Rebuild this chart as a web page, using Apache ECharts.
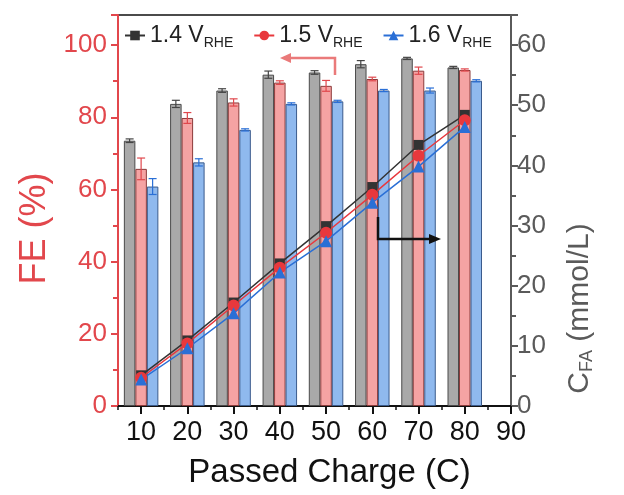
<!DOCTYPE html>
<html>
<head>
<meta charset="utf-8">
<script src="https://cdn.jsdelivr.net/npm/echarts@6/dist/echarts.min.js"></script>
<style>
  html, body { margin: 0; padding: 0; background: #fff; }
  #chart { width: 624px; height: 495px; }
</style>
</head>
<body>
<div id="chart"></div>
<script>
// x axis positions (category axis running 5..90 in steps of 5)
const xCats = ['5', '10', '15', '20', '25', '30', '35', '40', '45', '50', '55', '60', '65', '70', '75', '80', '85', '90'];
const charges = ['10', '20', '30', '40', '50', '60', '70', '80'];

// Faradaic efficiency (%), left axis
const fe14 = [73.5, 83.7, 87.4, 91.8, 92.4, 94.7, 96.3, 93.8];
const fe15 = [65.7, 79.8, 84.1, 89.6, 88.7, 90.6, 92.9, 93.1];
const fe16 = [60.8, 67.5, 76.5, 83.7, 84.4, 87.4, 87.4, 90.1];
const fe14Err = [0.5, 1.0, 0.5, 1.0, 0.5, 1.0, 0.3, 0.3];
const fe15Err = [3.0, 1.5, 1.0, 0.5, 1.5, 0.5, 1.0, 0.3];
const fe16Err = [2.2, 1.0, 0.3, 0.3, 0.3, 0.3, 0.7, 0.3];

// formate concentration (mmol/L), right axis
const cfa14 = [5.1, 10.9, 17.2, 23.7, 29.9, 36.4, 43.4, 48.4];
const cfa15 = [4.7, 10.4, 16.7, 23.0, 28.8, 35.1, 41.6, 47.5];
const cfa16 = [4.4, 9.6, 15.4, 22.2, 27.4, 33.8, 39.8, 46.4];

const RED = '#e2474c';
const GREY = '#5a5a5a';
const BAR_W = 11.5;
const FONT = 'Liberation Sans, Arial, sans-serif';

const pairs = (vals) => charges.map((c, i) => [c, vals[i]]);
const errPairs = (vals, errs) => charges.map((c, i) => [c, vals[i] - errs[i], vals[i] + errs[i]]);

function errRenderer(offset, color) {
    return function (params, api) {
        const x = api.coord([api.value(0), 0])[0] + offset;
        const lo = api.coord([api.value(0), api.value(1)])[1];
        const hi = api.coord([api.value(0), api.value(2)])[1];
        const cap = 4;
        const style = { stroke: color, lineWidth: 1.2 };
        return {
            type: 'group',
            children: [
                { type: 'line', shape: { x1: x, y1: lo, x2: x, y2: hi }, style: style },
                { type: 'line', shape: { x1: x - cap, y1: hi, x2: x + cap, y2: hi }, style: style },
                { type: 'line', shape: { x1: x - cap, y1: lo, x2: x + cap, y2: lo }, style: style },
            ],
        };
    };
}

function barSeries(name, vals, fill, border) {
    return {
        name: name,
        type: 'bar',
        data: pairs(vals),
        barWidth: BAR_W,
        barGap: '0%',
        itemStyle: { color: fill, borderColor: border, borderWidth: 1 },
        z: 2,
    };
}

function lineSeries(name, vals, color, symbol, size) {
    return {
        name: name,
        type: 'line',
        yAxisIndex: 1,
        data: pairs(vals),
        symbol: symbol,
        symbolSize: size,
        lineStyle: { color: color, width: 1.5 },
        itemStyle: { color: color },
        z: 5,
    };
}

const chart = echarts.init(document.getElementById('chart'));

const option = {
    animation: false,
    backgroundColor: '#fff',
    textStyle: { fontFamily: FONT },
    grid: {
        left: 118, right: 113, top: 15, bottom: 89,
        show: true, borderColor: '#111', borderWidth: 1.5, backgroundColor: 'transparent',
    },
    legend: {
        data: ['1.4', '1.5', '1.6'],
        left: 119,
        top: 19,
        itemWidth: 20,
        itemHeight: 12,
        itemGap: 20,
        formatter: (n) => n + ' V{s|RHE}',
        textStyle: {
            fontSize: 23, color: '#222', fontFamily: FONT,
            rich: { s: { fontSize: 14, color: '#222', fontFamily: FONT, padding: [16, 0, 0, 0] } },
        },
    },
    xAxis: [
        {
            type: 'category',
            data: xCats,
            boundaryGap: false,
            name: 'Passed Charge (C)',
            nameLocation: 'middle',
            nameGap: 50,
            nameTextStyle: { fontSize: 33, color: '#111', fontFamily: FONT, padding: [0, 0, 0, 30] },
            axisLine: { lineStyle: { color: '#111', width: 2 } },
            axisTick: { show: true, length: 8, lineStyle: { color: '#111', width: 2 }, interval: (i) => i % 2 === 1 },
            axisLabel: { fontSize: 27, color: '#111', margin: 13, interval: (i) => i % 2 === 1 },
            splitLine: { show: false },
        },
        {
            type: 'category',
            data: xCats,
            boundaryGap: false,
            position: 'bottom',
            axisLine: { show: false },
            axisTick: { show: true, length: 4, lineStyle: { color: '#111', width: 1.5 }, interval: 0 },
            axisLabel: { show: false },
            splitLine: { show: false },
        },
    ],
    yAxis: [
        {
            type: 'value',
            min: 0,
            max: 108.33,
            interval: 20,
            position: 'left',
            name: 'FE (%)',
            nameLocation: 'middle',
            nameGap: 61,
            nameTextStyle: { fontSize: 36, color: RED, fontFamily: FONT, padding: [0, 36, 0, 0] },
            axisLine: { show: true, lineStyle: { color: RED, width: 2 } },
            axisTick: { show: true, length: 7, lineStyle: { color: RED, width: 2 } },
            minorTick: { show: true, splitNumber: 2, length: 5, lineStyle: { color: RED, width: 2 } },
            axisLabel: { fontSize: 26, color: RED, margin: 11, showMaxLabel: false },
            splitLine: { show: false },
        },
        {
            type: 'value',
            min: 0,
            max: 65,
            interval: 10,
            position: 'right',
            name: '{a|C}{s|FA}{a| (mmol/L)}',
            nameLocation: 'middle',
            nameGap: 53,
            nameTextStyle: {
                fontSize: 30, color: GREY, fontFamily: FONT, padding: [0, 196, 0, 0],
                rich: {
                    a: { fontSize: 30, color: GREY, fontFamily: FONT },
                    s: { fontSize: 18, color: GREY, fontFamily: FONT, padding: [14, 0, 0, 0] },
                },
            },
            axisLine: { show: true, lineStyle: { color: GREY, width: 2 } },
            axisTick: { show: true, length: 7, lineStyle: { color: GREY, width: 2 } },
            minorTick: { show: true, splitNumber: 2, length: 5, lineStyle: { color: GREY, width: 2 } },
            axisLabel: { fontSize: 26, color: GREY, margin: 6, showMaxLabel: false },
            splitLine: { show: false },
        },
    ],
    series: [
        barSeries('bar14', fe14, '#a9a9a9', '#4a4a4a'),
        barSeries('bar15', fe15, '#f5a3a3', '#8c3b3b'),
        barSeries('bar16', fe16, '#8fb9ee', '#3b5b8c'),
        { type: 'custom', data: errPairs(fe14, fe14Err), renderItem: errRenderer(-BAR_W, '#444'), z: 3 },
        { type: 'custom', data: errPairs(fe15, fe15Err), renderItem: errRenderer(0, '#e0474c'), z: 3 },
        { type: 'custom', data: errPairs(fe16, fe16Err), renderItem: errRenderer(BAR_W, '#2a6fd6'), z: 3 },
        lineSeries('1.4', cfa14, '#333333', 'rect', 10),
        lineSeries('1.5', cfa15, '#e8383d', 'circle', 12),
        lineSeries('1.6', cfa16, '#2a6fd6', 'triangle', 12),
    ],
    graphic: [
        // red arrow pointing to the FE axis
        { type: 'polyline', shape: { points: [[335, 75], [335, 58], [290, 58]] }, style: { stroke: '#ea7a7a', lineWidth: 2.5, fill: null }, z: 10 },
        { type: 'polygon', shape: { points: [[280, 58], [291, 53], [291, 63]] }, style: { fill: '#ea7a7a' }, z: 10 },
        // black arrow pointing to the C_FA axis
        { type: 'polyline', shape: { points: [[378, 217], [378, 239], [430, 239]] }, style: { stroke: '#111', lineWidth: 2.5, fill: null }, z: 10 },
        { type: 'polygon', shape: { points: [[441, 239], [429, 234], [429, 244]] }, style: { fill: '#111' }, z: 10 },
    ],
};

chart.setOption(option);
</script>
</body>
</html>
